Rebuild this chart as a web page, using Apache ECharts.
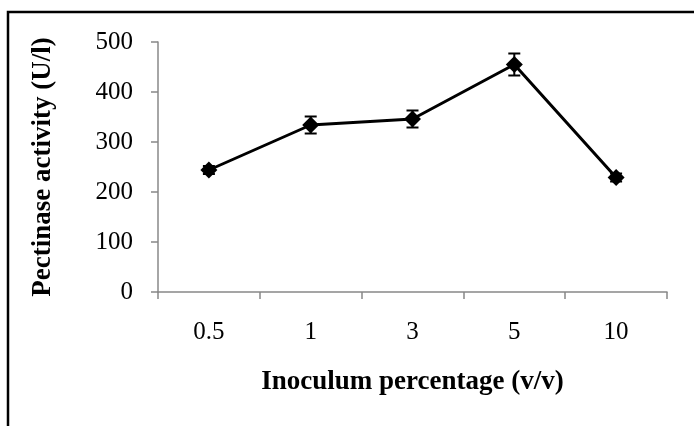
<!DOCTYPE html>
<html lang="en">
<head>
    <meta charset="UTF-8">
    <title>Pectinase activity</title>
    <style>
        html, body { margin: 0; padding: 0; background: #fff; }
    </style>
</head>
<body>
    <div id="main" style="width: 694px; height: 426px;"></div>
</body>
<script src="https://cdn.jsdelivr.net/npm/echarts@6/dist/echarts.min.js"></script>
<script>
    var categories = ['0.5', '1', '3', '5', '10'];
    var activity = [244, 334, 346, 455, 229];
    var errors = [8, 17, 17, 22, 8];
    var yTicks = [0, 100, 200, 300, 400, 500];

    var errorData = categories.map(function (c, i) {
        return [i, activity[i] - errors[i], activity[i] + errors[i]];
    });

    var myChart = echarts.init(document.getElementById('main'));
    var serif = '"Liberation Serif", "Times New Roman", serif';
    var option = {
        animation: false,
        graphic: [{
            type: 'rect',
            shape: { x: 8, y: 12, width: 700, height: 430 },
            style: { fill: 'none', stroke: '#000', lineWidth: 2.5 }
        }],
        grid: { left: 158, right: 27, top: 42, bottom: 134 },
        xAxis: {
            type: 'category',
            data: categories,
            boundaryGap: true,
            name: 'Inoculum percentage (v/v)',
            nameLocation: 'middle',
            nameGap: 77,
            nameTextStyle: { fontFamily: serif, fontSize: 27, fontWeight: 'bold', color: '#000' },
            axisLine: { lineStyle: { color: '#888', width: 1.5 } },
            axisTick: { show: true, length: 7, lineStyle: { color: '#888', width: 1.5 } },
            axisLabel: { margin: 28, fontFamily: serif, fontSize: 25, color: '#000' },
            splitLine: { show: false }
        },
        yAxis: {
            type: 'value',
            min: yTicks[0],
            max: yTicks[yTicks.length - 1],
            interval: 100,
            name: 'Pectinase activity (U/l)',
            nameLocation: 'middle',
            nameGap: 101,
            nameTextStyle: { fontFamily: serif, fontSize: 27, fontWeight: 'bold', color: '#000' },
            axisLine: { show: true, lineStyle: { color: '#888', width: 1.5 } },
            axisTick: { show: true, length: 7, lineStyle: { color: '#888', width: 1.5 } },
            axisLabel: { margin: 25, fontFamily: serif, fontSize: 25, color: '#000' },
            splitLine: { show: false }
        },
        series: [{
            name: 'Pectinase activity',
            type: 'line',
            data: activity,
            symbol: 'diamond',
            symbolSize: 17,
            lineStyle: { color: '#000', width: 3 },
            itemStyle: { color: '#000' },
            z: 3
        }, {
            type: 'custom',
            data: errorData,
            z: 4,
            renderItem: function (params, api) {
                var lo = api.coord([api.value(0), api.value(1)]);
                var hi = api.coord([api.value(0), api.value(2)]);
                var w = 6;
                var st = { stroke: '#000', lineWidth: 2 };
                return {
                    type: 'group',
                    children: [
                        { type: 'line', shape: { x1: hi[0], y1: hi[1], x2: lo[0], y2: lo[1] }, style: st },
                        { type: 'line', shape: { x1: hi[0] - w, y1: hi[1], x2: hi[0] + w, y2: hi[1] }, style: st },
                        { type: 'line', shape: { x1: lo[0] - w, y1: lo[1], x2: lo[0] + w, y2: lo[1] }, style: st }
                    ]
                };
            }
        }]
    };
    myChart.setOption(option);
</script>
</html>
